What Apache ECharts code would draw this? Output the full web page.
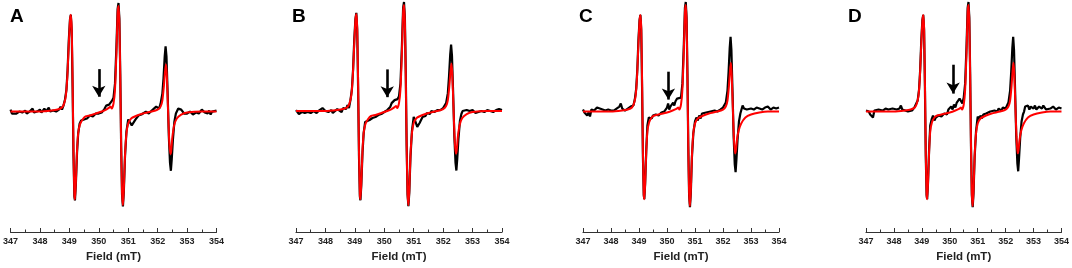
<!DOCTYPE html>
<html>
<head>
<meta charset="utf-8">
<script src="https://cdn.jsdelivr.net/npm/echarts@6/dist/echarts.min.js"></script>
<style>
  html, body { margin: 0; padding: 0; background: #fff; }
  #main { width: 1072px; height: 268px; }
</style>
</head>
<body>
<div id="main"></div>
<script>
// field axis ticks (mT)
const fieldTicks = [347, 348, 349, 350, 351, 352, 353, 354]
const panelNames = ['A', 'B', 'C', 'D']

// simulated spectra (red), [field mT, signal a.u.]
const simAB = [
  [347.0, 0], [347.5, 0], [348.0, 0], [348.4, 1], [348.6, 2], [348.75, 4], [348.82, 8], [348.88, 16],
  [348.93, 35], [348.98, 68], [349.02, 92], [349.05, 98], [349.08, 84], [349.11, 30], [349.14, -40],
  [349.17, -84], [349.19, -89], [349.22, -72], [349.26, -40], [349.3, -22], [349.36, -13], [349.45, -8],
  [349.55, -5], [349.7, -4], [349.9, -2], [350.1, 0], [350.25, 2], [350.35, 4], [350.4, 5], [350.44, 3],
  [350.5, 8], [350.55, 22], [350.6, 60], [350.64, 100], [350.67, 107], [350.7, 90], [350.73, 35],
  [350.76, -35], [350.79, -82], [350.82, -95], [350.85, -80], [350.89, -45], [350.94, -22], [351.0, -12],
  [351.1, -7], [351.3, -4], [351.5, -2], [351.8, 0], [352.0, 2], [352.1, 5], [352.16, 11], [352.21, 25],
  [352.25, 40], [352.28, 48], [352.31, 38], [352.35, 5], [352.39, -28], [352.43, -43], [352.46, -40],
  [352.5, -26], [352.56, -14], [352.65, -7], [352.8, -3], [353.0, -1], [353.5, 0], [354.0, 0]
]
const simCD = [
  [347.0, 0], [347.5, 0], [348.0, 0], [348.4, 1], [348.6, 2], [348.75, 4], [348.82, 8], [348.88, 16],
  [348.93, 35], [348.98, 68], [349.02, 91], [349.05, 97], [349.08, 84], [349.11, 30], [349.14, -40],
  [349.17, -83], [349.19, -88], [349.22, -72], [349.26, -40], [349.3, -20], [349.36, -11], [349.45, -6],
  [349.55, -4], [349.7, -3], [350.0, -1], [350.2, 1], [350.35, 3], [350.4, 4], [350.44, 2],
  [350.5, 7], [350.55, 22], [350.6, 60], [350.64, 100], [350.67, 107], [350.7, 90], [350.73, 35],
  [350.76, -35], [350.79, -82], [350.82, -95], [350.85, -80], [350.89, -45], [350.94, -22], [351.0, -12],
  [351.1, -7], [351.3, -4], [351.5, -2], [351.8, 0], [352.0, 2], [352.1, 5], [352.16, 11], [352.21, 25],
  [352.25, 41], [352.28, 49], [352.31, 38], [352.35, 5], [352.39, -27], [352.43, -42], [352.46, -39],
  [352.5, -28], [352.56, -19], [352.65, -12], [352.8, -6], [353.0, -3], [353.3, -1], [353.6, 0], [354.0, 0]
]

// experimental spectra (black)
const expA = [
  [347.0, 2], [347.05, -2], [347.1, -1], [347.2, -2], [347.3, 0], [347.4, -1], [347.5, 1], [347.55, -2],
  [347.65, 0], [347.75, 3], [347.8, -1], [347.9, 0], [348.0, 2], [348.05, -1], [348.15, 3], [348.2, 0],
  [348.3, 4], [348.35, 0], [348.45, 1], [348.5, 3], [348.55, 0], [348.65, 2], [348.7, 5], [348.75, 2],
  [348.8, 6], [348.85, 12], [348.9, 22], [348.94, 42], [348.98, 72], [349.02, 93], [349.05, 98], [349.08, 82],
  [349.11, 25], [349.14, -45], [349.17, -86], [349.19, -90], [349.22, -74], [349.26, -42], [349.3, -22],
  [349.35, -12], [349.4, -9], [349.5, -8], [349.6, -7], [349.7, -4], [349.8, -5], [349.9, -2], [350.0, -2],
  [350.05, 0], [350.1, -1], [350.2, 3], [350.25, 6], [350.3, 8], [350.35, 7], [350.45, 11],
  [350.5, 14], [350.55, 28], [350.6, 66], [350.64, 104], [350.67, 110], [350.7, 94], [350.73, 38],
  [350.76, -35], [350.79, -84], [350.82, -96], [350.85, -82], [350.89, -46], [350.94, -20], [351.0, -8],
  [351.05, -7], [351.12, -14], [351.18, -15], [351.25, -8], [351.35, -4], [351.45, -3], [351.5, -5],
  [351.6, 0], [351.7, -2], [351.8, 1], [351.85, -1], [351.95, 5], [352.0, 5], [352.05, 3],
  [352.1, 8], [352.16, 18], [352.2, 34], [352.24, 56], [352.27, 66], [352.3, 56], [352.34, 18],
  [352.38, -25], [352.42, -52], [352.45, -60], [352.48, -48], [352.52, -28], [352.57, -10], [352.62, -2],
  [352.7, 3], [352.75, 1], [352.8, 2], [352.85, 0], [352.9, -2], [353.0, -2], [353.1, 0], [353.2, -3],
  [353.3, -1], [353.4, -2], [353.5, 2], [353.6, -1], [353.7, -2], [353.75, 1], [353.8, -3], [353.85, 0],
  [353.9, -1], [354.0, 1]
]
const expB = [
  [347.0, 1], [347.05, -1], [347.1, -3], [347.2, -1], [347.3, -2], [347.4, -1], [347.5, -2], [347.6, 0],
  [347.7, -2], [347.8, 1], [347.9, 3], [348.0, 0], [348.05, 2], [348.1, -1], [348.2, 1], [348.25, -2],
  [348.3, 0], [348.4, 2], [348.45, 0], [348.55, -1], [348.6, 3], [348.7, 2], [348.75, 6], [348.8, 3],
  [348.85, 11], [348.9, 22], [348.94, 42], [348.98, 72], [349.02, 93], [349.05, 99], [349.08, 82],
  [349.11, 25], [349.14, -45], [349.17, -86], [349.19, -90], [349.22, -74], [349.26, -42], [349.3, -22],
  [349.35, -11], [349.4, -10], [349.5, -9], [349.6, -7], [349.7, -6], [349.8, -4], [349.9, -3], [350.0, -1],
  [350.05, -3], [350.1, 1], [350.15, 0], [350.2, 4], [350.25, 8], [350.3, 10], [350.35, 11], [350.45, 12],
  [350.5, 15], [350.55, 28], [350.6, 66], [350.64, 104], [350.67, 110], [350.7, 94], [350.73, 38],
  [350.76, -35], [350.79, -84], [350.82, -96], [350.85, -82], [350.89, -46], [350.94, -20], [351.0, -6],
  [351.05, -10], [351.12, -16], [351.2, -12], [351.3, -6], [351.4, -5], [351.45, -2], [351.55, -3],
  [351.6, 0], [351.7, -1], [351.8, 1], [351.9, 1], [352.0, 3], [352.05, 4],
  [352.1, 8], [352.16, 18], [352.2, 35], [352.24, 57], [352.27, 67], [352.3, 56], [352.34, 18],
  [352.38, -25], [352.42, -52], [352.45, -60], [352.48, -48], [352.52, -28], [352.57, -10], [352.62, -3],
  [352.66, 0], [352.7, 2], [352.8, 1], [352.9, 0], [353.0, 1], [353.1, -2], [353.2, -1], [353.3, 0],
  [353.4, -1], [353.5, 1], [353.55, 3], [353.6, 0], [353.7, -1], [353.8, 1], [353.85, -1], [353.9, 2],
  [354.0, 1]
]
const expC = [
  [347.0, 2], [347.05, -1], [347.1, 0], [347.15, -4], [347.2, -1], [347.25, -5], [347.3, 2], [347.35, 3],
  [347.4, 1], [347.5, 4], [347.55, 2], [347.6, 3], [347.7, 2], [347.75, 4], [347.8, 1], [347.9, 2],
  [348.0, 1], [348.05, 3], [348.1, 1], [348.2, 3], [348.25, 1], [348.3, 5], [348.35, 8], [348.4, 3],
  [348.5, 1], [348.55, 2], [348.6, 3], [348.7, 5], [348.75, 3], [348.8, 6], [348.85, 12], [348.9, 23],
  [348.94, 42], [348.98, 72], [349.02, 92], [349.05, 97], [349.08, 82], [349.11, 25], [349.14, -45],
  [349.17, -84], [349.19, -88], [349.22, -72], [349.26, -38], [349.3, -14], [349.35, -6], [349.4, -5],
  [349.45, -7], [349.5, -4], [349.6, -3], [349.7, -4], [349.8, -1], [349.85, -3], [349.9, 0], [349.95, 1],
  [350.0, 4], [350.04, 8], [350.08, 2], [350.12, 5], [350.18, 3], [350.22, 9], [350.26, 6], [350.3, 10],
  [350.36, 13], [350.42, 12], [350.5, 14], [350.55, 28], [350.6, 66], [350.64, 104], [350.67, 110],
  [350.7, 94], [350.73, 38], [350.76, -35], [350.79, -84], [350.82, -96], [350.85, -82], [350.89, -46],
  [350.94, -22], [351.0, -10], [351.05, -6], [351.1, -9], [351.15, -4], [351.2, -7], [351.25, -2],
  [351.3, -4], [351.4, -1], [351.45, -3], [351.55, 0], [351.6, -2], [351.7, 1], [351.8, 0], [351.9, 2],
  [351.95, 1], [352.0, 4], [352.05, 3], [352.1, 9], [352.16, 21], [352.2, 40], [352.24, 64], [352.27, 75],
  [352.3, 62], [352.34, 20], [352.38, -25], [352.42, -53], [352.45, -61], [352.48, -48], [352.52, -28],
  [352.57, -10], [352.62, -2], [352.66, 2], [352.7, 6], [352.75, 3], [352.8, 5], [352.85, 2], [352.9, 4],
  [353.0, 3], [353.05, 5], [353.1, 2], [353.2, 4], [353.3, 3], [353.35, 5], [353.4, 2], [353.5, 4],
  [353.55, 3], [353.6, 5], [353.7, 2], [353.8, 4], [353.9, 3], [354.0, 4]
]
const expD = [
  [347.0, 1], [347.05, -1], [347.1, 0], [347.15, -3], [347.2, -1], [347.25, -6], [347.3, 1], [347.35, 3],
  [347.45, 2], [347.5, 3], [347.6, 1], [347.7, 3], [347.8, 2], [347.85, 1], [347.95, 3], [348.0, 1],
  [348.1, 2], [348.15, 0], [348.2, 3], [348.25, 6], [348.3, 2], [348.4, 1], [348.5, 0], [348.55, 2],
  [348.65, 1], [348.7, 3], [348.75, 5], [348.8, 3], [348.85, 11], [348.9, 22], [348.94, 42], [348.98, 72],
  [349.02, 92], [349.05, 97], [349.08, 82], [349.11, 25], [349.14, -45], [349.17, -84], [349.19, -88],
  [349.22, -72], [349.26, -38], [349.3, -14], [349.35, -8], [349.4, -4], [349.45, -9], [349.5, -6],
  [349.6, -4], [349.7, -5], [349.8, -2], [349.85, -1], [349.9, -3], [349.95, 2], [350.0, 3], [350.05, 5],
  [350.1, 2], [350.15, 7], [350.2, 4], [350.25, 9], [350.3, 10], [350.35, 13], [350.4, 14], [350.45, 8],
  [350.5, 14], [350.55, 28], [350.6, 66], [350.64, 104], [350.67, 110], [350.7, 94], [350.73, 38],
  [350.76, -35], [350.79, -84], [350.82, -96], [350.85, -82], [350.89, -46], [350.94, -20], [351.0, -5],
  [351.05, -8], [351.1, -4], [351.15, -7], [351.2, -3], [351.3, -2], [351.35, -4], [351.45, 0], [351.5, -2],
  [351.6, 1], [351.7, 0], [351.75, 3], [351.85, 1], [351.9, 4], [352.0, 3], [352.05, 6], [352.1, 9],
  [352.16, 21], [352.2, 40], [352.24, 64], [352.27, 75], [352.3, 62], [352.34, 20], [352.38, -25],
  [352.42, -52], [352.45, -60], [352.48, -47], [352.52, -27], [352.57, -10], [352.62, -3], [352.66, 0],
  [352.7, 5], [352.75, 3], [352.8, 6], [352.85, 2], [352.9, 5], [353.0, 3], [353.05, 6], [353.1, 2],
  [353.2, 5], [353.3, 3], [353.35, 6], [353.45, 2], [353.5, 4], [353.6, 3], [353.7, 5], [353.8, 2],
  [353.9, 4], [354.0, 3]
]
// arrows: field, start value, tip value
const arrowA = [350.0, 43, 15]
const arrowB = [350.1, 42, 14]
const arrowC = [350.05, 40, 12]
const arrowD = [350.12, 47, 18]

const chart = echarts.init(document.getElementById('main'))

// pixel frames of the four panels
const panels = [
  { left: 9.5, width: 207, height: 235, top: 113, exp: expA, sim: simAB, arrow: arrowA, label: 10 },
  { left: 296, width: 206, height: 234, top: 112, exp: expB, sim: simAB, arrow: arrowB, label: 292 },
  { left: 583, width: 196, height: 233, top: 112, exp: expC, sim: simCD, arrow: arrowC, label: 579 },
  { left: 866, width: 197, height: 233, top: 112, exp: expD, sim: simCD, arrow: arrowD, label: 848 }
]

const font = 'Liberation Sans, Arial, sans-serif'
const grid = []
const xAxis = []
const yAxis = []
const series = []
const title = []

panels.forEach(function (p, i) {
  grid.push({ left: p.left, top: 0, width: p.width, height: p.height })
  title.push({
    text: panelNames[i],
    left: p.label,
    top: 7,
    padding: 0,
    textStyle: { fontSize: 19, fontWeight: 'bold', fontFamily: font, color: '#000' }
  })
  xAxis.push({
    type: 'value',
    gridIndex: i,
    min: fieldTicks[0],
    max: fieldTicks[fieldTicks.length - 1],
    interval: 1,
    name: 'Field (mT)',
    nameLocation: 'middle',
    nameGap: 19,
    nameTextStyle: { fontSize: 11.5, fontWeight: 'bold', fontFamily: font, color: '#222' },
    axisLine: { show: true, onZero: false, lineStyle: { color: '#333', width: 1.2 } },
    axisTick: { show: true, inside: true, length: 4, lineStyle: { color: '#333' } },
    minorTick: { show: true, splitNumber: 2, length: 2.5, lineStyle: { color: '#333' } },
    splitLine: { show: false },
    axisLabel: { fontSize: 9, fontWeight: 'bold', fontFamily: font, color: '#222', margin: 5 }
  })
  yAxis.push({
    type: 'value',
    gridIndex: i,
    min: p.top - p.height,
    max: p.top,
    show: false
  })
  series.push({
    type: 'line',
    xAxisIndex: i,
    yAxisIndex: i,
    data: p.exp,
    showSymbol: false,
    lineStyle: { color: '#000', width: 2.2 },
    markLine: {
      silent: true,
      symbol: ['none', 'arrow'],
      symbolSize: [10, 11],
      label: { show: false },
      lineStyle: { color: '#000', width: 2.6, type: 'solid' },
      data: [[{ coord: [p.arrow[0], p.arrow[1]] }, { coord: [p.arrow[0], p.arrow[2]] }]]
    }
  })
  series.push({
    type: 'line',
    xAxisIndex: i,
    yAxisIndex: i,
    data: p.sim,
    showSymbol: false,
    smooth: 0.2,
    lineStyle: { color: '#ff0000', width: 2 }
  })
})

chart.setOption({
  animation: false,
  backgroundColor: '#fff',
  title: title,
  grid: grid,
  xAxis: xAxis,
  yAxis: yAxis,
  series: series
})
</script>
</body>
</html>
